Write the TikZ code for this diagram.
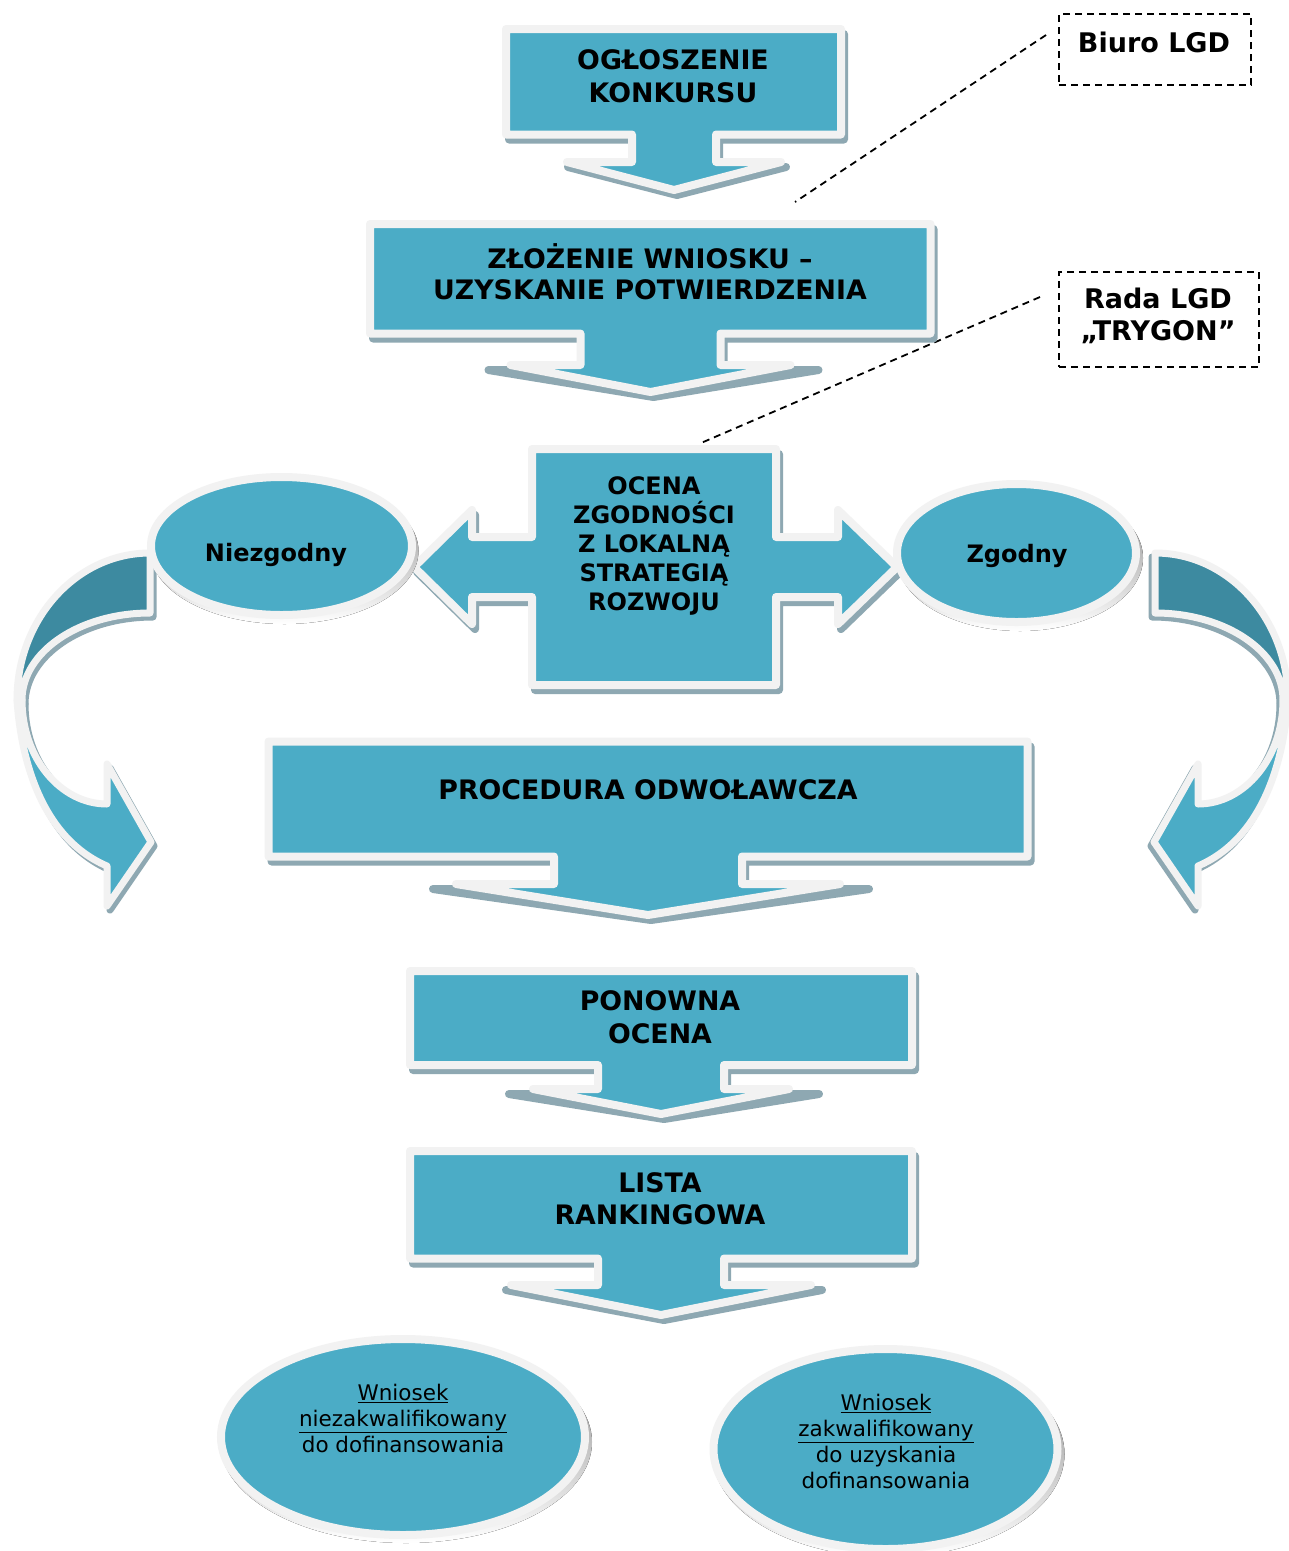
\documentclass[tikz,border=0pt]{standalone}
\usepackage{fontspec}
\setmainfont{DejaVu Sans}
\usetikzlibrary{shapes.geometric}
\definecolor{teal1}{RGB}{75,172,198}
\definecolor{tealdark}{RGB}{61,138,160}
\definecolor{rim}{RGB}{242,242,242}
\definecolor{shade}{RGB}{142,168,178}
% x1,y1,x2,y2,cx,stem half width,stem bottom y,wing half width,tip y
\newcommand\callpath[9]{(#1,#2) -- (#3,#2) -- (#3,#4) -- ({#5+#6},#4) -- ({#5+#6},#7) -- ({#5+#8},#7) -- (#5,#9) -- ({#5-#8},#7) -- ({#5-#6},#7) -- ({#5-#6},#4) -- (#1,#4) -- cycle}
\newcommand\darkband{(150,553) .. controls (76.5,553) and (17,618.8) .. (17,700) -- (22,700) .. controls (22,651.9) and (79.3,613) .. (150,613) -- cycle}
\newcommand\lightband{(17,700) .. controls (20,745) and (35,835) .. (107,866) -- (107,906) -- (151,842) -- (107,764) -- (107,804) .. controls (60.1,804) and (22,757.4) .. (22,700) -- cycle}
\newcommand\crosspath{(532,449) -- (776,449) -- (776,537) -- (838,537) -- (838,510) -- (897,567) -- (838,624) -- (838,597) -- (776,597) -- (776,685) -- (532,685) -- (532,597) -- (472,597) -- (472,624) -- (414,567) -- (472,510) -- (472,537) -- (532,537) -- cycle}
\begin{document}
\begin{tikzpicture}[x=1pt,y=-1pt,
  shapebox/.style={fill=teal1,draw=rim,line width=8pt,line join=round},
  shadowbox/.style={fill=shade,draw=shade,line width=8pt,line join=round},
  curvebox/.style={draw=rim,line width=7pt,line join=round},
  ellbox/.style={ellipse,fill=teal1,draw=rim,line width=8pt,inner sep=0pt},
  boxtext/.style={font=\fontsize{26.8}{33}\selectfont\bfseries,align=center,inner sep=0pt},
  midtext/.style={font=\fontsize{24}{29}\selectfont\bfseries,align=center,inner sep=0pt},
  elltext/.style={font=\fontsize{24}{29}\selectfont\bfseries,align=center,inner sep=0pt},
  lbltext/.style={font=\fontsize{27}{32}\selectfont\bfseries,align=center,inner sep=0pt},
  wtext/.style={font=\fontsize{21.5}{26}\selectfont,align=center,inner sep=0pt},
  lblbox/.style={draw=black,line width=2pt,dash pattern=on 7pt off 5pt,inner sep=0pt},
  dashline/.style={draw=black,line width=1.8pt,dash pattern=on 7pt off 5pt}]
\useasboundingbox (0,0) rectangle (1289,1551);
\fill[white] (0,0) rectangle (1289,1551);

% label boxes and dashed leaders
\node[lblbox,minimum width=192pt,minimum height=71pt] (biuro) at (1155,49.5) {};
\node[lblbox,minimum width=200pt,minimum height=95pt] (rada) at (1159,319.5) {};
\coordinate (d1a) at (1046,35);
\coordinate (d1b) at (795,202);
\coordinate (d2a) at (1040,297);
\coordinate (d2b) at (701,443);
\draw[dashline] (d1a) -- (d1b);
\draw[dashline] (d2a) -- (d2b);

% top callouts
\path[shadowbox,shift={(3,5)}] \callpath{506}{29}{841}{134.5}{674}{42}{162}{109}{190};
\path[shapebox] \callpath{506}{29}{841}{134.5}{674}{42}{162}{107}{190};
\path[shadowbox,shift={(3,5)}] \callpath{370}{224}{930.5}{333.5}{650.5}{70}{365}{165}{392};
\path[shapebox] \callpath{370}{224}{930.5}{333.5}{650.5}{70}{365}{140}{392};

% curved arrows
\begin{scope}
  \path[shadowbox,line width=7pt,shift={(3,4)}] \darkband;
  \path[shadowbox,line width=7pt,shift={(3,4)}] \lightband;
  \path[curvebox,fill=tealdark] \darkband;
  \path[curvebox,fill=teal1] \lightband;
\end{scope}
\begin{scope}[shift={(1305,0)},xscale=-1]
  \path[shadowbox,line width=7pt,shift={(3,4)}] \darkband;
  \path[shadowbox,line width=7pt,shift={(3,4)}] \lightband;
  \path[curvebox,fill=tealdark] \darkband;
  \path[curvebox,fill=teal1] \lightband;
\end{scope}

% central cross
\path[shadowbox,shift={(3,5)}] \crosspath;
\path[shapebox] \crosspath;

% side ellipses
\fill[shade] (284.5,551) ellipse [x radius=134pt,y radius=73pt];
\node[ellbox,minimum width=261pt,minimum height=138pt] (niez) at (281.5,546) {};
\fill[shade] (1020,558) ellipse [x radius=123pt,y radius=73pt];
\node[ellbox,minimum width=239pt,minimum height=138pt] (zgod) at (1016.5,553) {};

% lower callouts
\path[shadowbox,shift={(3,5)}] \callpath{268.5}{741.5}{1027.5}{856.5}{648}{94}{884}{218}{915};
\path[shapebox] \callpath{268.5}{741.5}{1027.5}{856.5}{648}{94}{884}{192}{915};
\path[shadowbox,shift={(3,5)}] \callpath{410}{971}{912}{1065}{661}{63}{1089}{155}{1114};
\path[shapebox] \callpath{410}{971}{912}{1065}{661}{63}{1089}{128}{1114};
\path[shadowbox,shift={(3,5)}] \callpath{410}{1151}{912}{1258.5}{661}{63}{1285}{158}{1315};
\path[shapebox] \callpath{410}{1151}{912}{1258.5}{661}{63}{1285}{150}{1315};

% bottom ellipses
\fill[shade] (406,1442) ellipse [x radius=186pt,y radius=101pt];
\node[ellbox,minimum width=364pt,minimum height=196pt] (nieq) at (403,1437) {};
\fill[shade] (888.5,1454) ellipse [x radius=176pt,y radius=103pt];
\node[ellbox,minimum width=344pt,minimum height=200pt] (kwal) at (885.5,1449) {};

% texts
\node[boxtext] (t1) at (673,76.5) {OGŁOSZENIE\\KONKURSU};
\node[boxtext,font=\fontsize{26.8}{31}\selectfont\bfseries] (t2) at (650,272) {ZŁOŻENIE WNIOSKU –\\UZYSKANIE POTWIERDZENIA};
\node[midtext] (t3) at (654,546) {OCENA\\ZGODNOŚCI\\Z LOKALNĄ\\STRATEGIĄ\\ROZWOJU};
\node[elltext] (t4) at (276,555) {Niezgodny};
\node[elltext] (t5) at (1017,556) {Zgodny};
\node[boxtext] (t6) at (648,790) {PROCEDURA ODWOŁAWCZA};
\node[boxtext] (t7) at (660,1017.5) {PONOWNA\\OCENA};
\node[boxtext,font=\fontsize{26.8}{32}\selectfont\bfseries] (t8) at (660,1199) {LISTA\\RANKINGOWA};
\node[wtext] (t9) at (403,1418) {\underline{Wniosek}\\\underline{niezakwalifikowany}\\do dofinansowania};
\node[wtext,font=\fontsize{21.5}{25.7}\selectfont] (t10) at (886,1441.5) {\underline{Wniosek}\\\underline{zakwalifikowany}\\do uzyskania\\dofinansowania};
\node[lbltext] (t11) at (1154,42) {Biuro LGD};
\node[lbltext] (t12) at (1158,316) {Rada LGD\\„TRYGON”};
\end{tikzpicture}
\end{document}
